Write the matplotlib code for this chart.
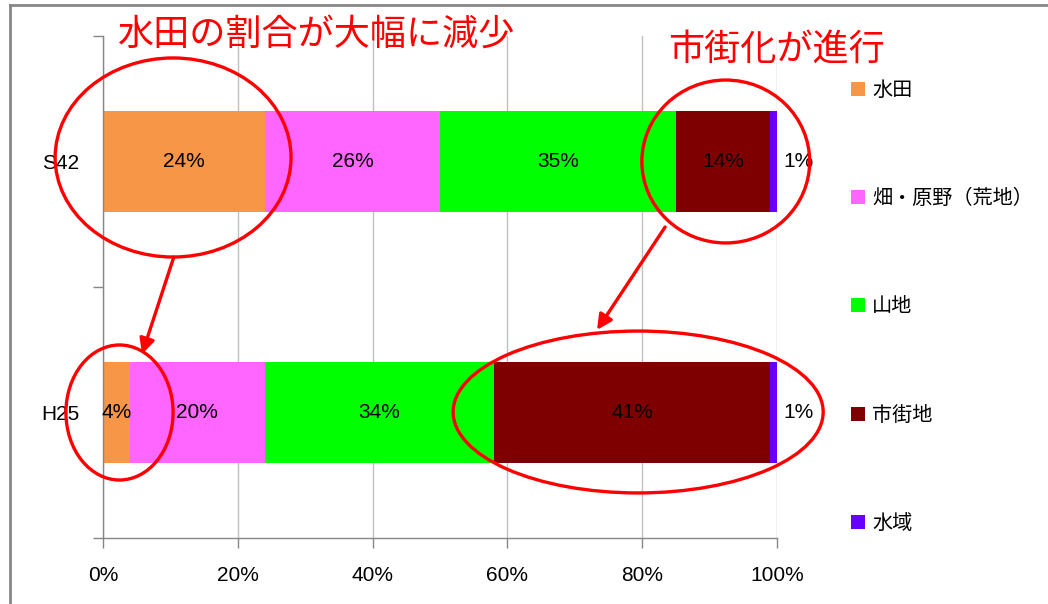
import matplotlib
matplotlib.use("Agg")
import matplotlib.pyplot as plt
from matplotlib.patches import Ellipse, Patch
from matplotlib.lines import Line2D
import matplotlib.font_manager as fm

# Land-use composition (%) for two survey years
years = ["S42", "H25"]
categories = ["水田", "畑・原野(荒地)", "山地", "市街地", "水域"]
legend_labels = ["水田", "畑・原野（荒地）", "山地", "市街地", "水域"]
s42_values = [24, 26, 35, 14, 1]
h25_values = [4, 20, 34, 41, 1]
colors = ["#F79646", "#FF66FF", "#00FF00", "#7F0000", "#6600FF"]
x_ticks = [0, 20, 40, 60, 80, 100]
x_tick_labels = ["0%", "20%", "40%", "60%", "80%", "100%"]

available = {f.name for f in fm.fontManager.ttflist}
latin = "Liberation Sans Narrow" if "Liberation Sans Narrow" in available else "Liberation Sans"
jp = "Noto Sans CJK JP"
plt.rcParams["font.family"] = [latin, jp, "DejaVu Sans"]

fig = plt.figure(figsize=(10.48, 6.04), dpi=100)
ax = fig.add_axes([103 / 1048, 1 - 538 / 604, 674 / 1048, 502 / 604])

series = [s42_values, h25_values]
ypos = list(range(len(years)))
for ci, cat in enumerate(categories):
    widths = [s[ci] for s in series]
    lefts = [sum(s[:ci]) for s in series]
    ax.barh(ypos, widths, left=lefts, height=0.4, color=colors[ci],
            edgecolor="none", zorder=2)
    for y, l, w in zip(ypos, lefts, widths):
        txt = f"{w}%"
        if ci == len(categories) - 1:
            ax.text(l + w + 0.9, y, txt, ha="left", va="center",
                    fontsize=15, color="black", zorder=5)
        else:
            ax.text(l + w / 2, y, txt, ha="center", va="center",
                    fontsize=15, color="black", zorder=5)

ax.set_xlim(0, 100)
ax.set_ylim(1.5, -0.5)
ax.set_xticks(x_ticks)
ax.set_xticklabels(x_tick_labels, fontsize=15)
ax.set_yticks(ypos)
ax.set_yticklabels(years, fontsize=15)
ax.set_yticks([-0.5, 0.5, 1.5], minor=True)
ax.tick_params(axis="y", which="major", length=0, pad=17)
ax.tick_params(axis="y", which="minor", length=7, color="#868686", width=1)
ax.tick_params(axis="x", which="major", length=7, color="#868686", width=1, pad=13)
ax.grid(axis="x", color="#BFBFBF", linewidth=1, zorder=0)
ax.set_axisbelow(True)
for side in ["top", "right"]:
    ax.spines[side].set_visible(False)
for side in ["left", "bottom"]:
    ax.spines[side].set_color("#868686")
    ax.spines[side].set_linewidth(1)

# Highlight ellipses
red = "#FF0000"
for (cx, cy, w, h) in [(10.4, -0.016, 35.0, 0.793),
                       (92.4, 0.0, 24.9, 0.649),
                       (2.45, 1.0, 15.9, 0.538),
                       (79.4, 0.998, 54.9, 0.645)]:
    e = Ellipse((cx, cy), w, h, fill=False, edgecolor=red, linewidth=2.4,
                clip_on=False, zorder=6)
    ax.add_patch(e)

# Arrows linking the two years
for (x0, y0, x1, y1) in [(10.5, 0.381, 5.79, 0.767),
                         (83.4, 0.261, 73.3, 0.671)]:
    ax.annotate("", xy=(x1, y1), xytext=(x0, y0),
                arrowprops=dict(arrowstyle="-|>,head_length=0.9,head_width=0.45",
                                color=red, linewidth=2.4, shrinkA=0, shrinkB=0),
                annotation_clip=False, zorder=6)

# Callout titles
fig.text(118 / 1048, 1 - 35 / 604, "水田の割合が大幅に減少", color=red,
         fontsize=26, family=[jp], ha="left", va="center")
fig.text(668 / 1048, 1 - 50 / 604, "市街化が進行", color=red,
         fontsize=26, family=[jp], ha="left", va="center")

# Legend
handles = [Patch(facecolor=c, edgecolor="none") for c in colors]
leg = fig.legend(handles, legend_labels, loc="upper left",
                 bbox_to_anchor=(843 / 1048, 1 - 72 / 604),
                 frameon=False, prop={"family": [jp], "size": 14.5},
                 handlelength=0.7, handleheight=0.7, handletextpad=0.35,
                 labelspacing=4.33, borderaxespad=0)

# Outer frame lines (top and left)
fig.add_artist(Line2D([10 / 1048, 10 / 1048], [0, 1 - 5 / 604],
                      transform=fig.transFigure, color="#868686", linewidth=2))
fig.add_artist(Line2D([10 / 1048, 1], [1 - 5 / 604, 1 - 5 / 604],
                      transform=fig.transFigure, color="#868686", linewidth=2))

fig.savefig("out.png", dpi=100)
